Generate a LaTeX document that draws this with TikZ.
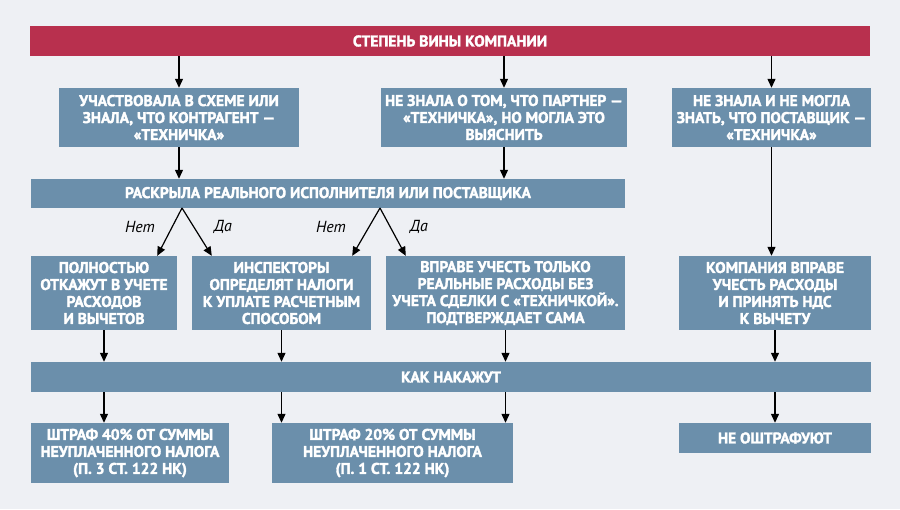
\documentclass[tikz,border=0pt]{standalone}
\usepackage{fontspec}
\setmainfont{PT Sans}
\newfontfamily\boxfont{PT Sans Bold}[FakeBold=2]
\usetikzlibrary{arrows.meta}
\definecolor{bg}{HTML}{EEF0F4}
\definecolor{redbar}{HTML}{B8304E}
\definecolor{boxblue}{HTML}{6B8FAB}
\tikzset{
  box/.style={fill=boxblue, text=white, font=\boxfont\fontsize{15.5}{17}\selectfont, align=center, inner sep=0pt},
  redbox/.style={box, fill=redbar},
  arr/.style={draw=black, line width=1.2pt, -{Triangle[length=9pt,width=8pt]}},
  lbl/.style={font=\itshape\fontsize{16}{17}\selectfont, text=black, inner sep=0pt}
}
\begin{document}
\begin{tikzpicture}[x=1pt,y=-1pt]
\fill[bg] (0,0) rectangle (900,509);
\useasboundingbox (0,0) rectangle (900,509);
% top bar
\node[redbox, minimum width=840pt, minimum height=30pt] (top) at (450,41) {СТЕПЕНЬ ВИНЫ КОМПАНИИ};
% row 2
\node[box, minimum width=240pt, minimum height=59pt] (a) at (179,117.5) {УЧАСТВОВАЛА В СХЕМЕ ИЛИ\\ЗНАЛА, ЧТО КОНТРАГЕНТ —\\«ТЕХНИЧКА»};
\node[box, minimum width=246pt, minimum height=59pt] (b) at (504,117.5) {НЕ ЗНАЛА О ТОМ, ЧТО ПАРТНЕР —\\«ТЕХНИЧКА», НО МОГЛА ЭТО\\ВЫЯСНИТЬ};
\node[box, minimum width=199pt, minimum height=59pt] (c) at (771.5,117.5) {НЕ ЗНАЛА И НЕ МОГЛА\\ЗНАТЬ, ЧТО ПОСТАВЩИК —\\«ТЕХНИЧКА»};
% row 3
\node[box, minimum width=594pt, minimum height=29pt] (rask) at (328,193.5) {РАСКРЫЛА РЕАЛЬНОГО ИСПОЛНИТЕЛЯ ИЛИ ПОСТАВЩИКА};
% row 4
\node[box, minimum width=146pt, minimum height=74pt] (d) at (104,293) {ПОЛНОСТЬЮ\\ОТКАЖУТ В УЧЕТЕ\\РАСХОДОВ\\И ВЫЧЕТОВ};
\node[box, minimum width=179pt, minimum height=74pt] (e) at (281.5,293) {ИНСПЕКТОРЫ\\ОПРЕДЕЛЯТ НАЛОГИ\\К УПЛАТЕ РАСЧЕТНЫМ\\СПОСОБОМ};
\node[box, minimum width=239pt, minimum height=74pt] (f) at (505.5,293) {ВПРАВЕ УЧЕСТЬ ТОЛЬКО\\РЕАЛЬНЫЕ РАСХОДЫ БЕЗ\\УЧЕТА СДЕЛКИ С «ТЕХНИЧКОЙ».\\ПОДТВЕРЖДАЕТ САМА};
\node[box, minimum width=192pt, minimum height=74pt] (g) at (775,293) {КОМПАНИЯ ВПРАВЕ\\УЧЕСТЬ РАСХОДЫ\\И ПРИНЯТЬ НДС\\К ВЫЧЕТУ};
% row 5
\node[box, minimum width=840pt, minimum height=30pt] (kak) at (451,377) {КАК НАКАЖУТ};
% row 6
\node[box, minimum width=198pt, minimum height=60pt] (h) at (130,453) {ШТРАФ 40\% ОТ СУММЫ\\НЕУПЛАЧЕННОГО НАЛОГА\\(П. 3 СТ. 122 НК)};
\node[box, minimum width=241pt, minimum height=60pt] (i) at (392.5,453) {ШТРАФ 20\% ОТ СУММЫ\\НЕУПЛАЧЕННОГО НАЛОГА\\(П. 1 СТ. 122 НК)};
\node[box, minimum width=192pt, minimum height=30pt] (j) at (775,438) {НЕ ОШТРАФУЮТ};
% arrows top -> row 2
\draw[arr] (top.south -| a.north) -- (a.north);
\draw[arr] (top.south -| b.north) -- (b.north);
\draw[arr] (top.south -| c.north) -- (c.north);
% row 2 -> rask
\draw[arr] (a.south) -- (a.south |- rask.north);
\draw[arr] (b.south) -- (b.south |- rask.north);
% c -> g
\draw[arr] (c.south) -- (c.south |- g.north);
% splits
\coordinate (s1) at (182,208);
\coordinate (s2) at (380,208);
\draw[arr] (s1) -- ([xshift=-20pt]d.north east);
\draw[arr] (s1) -- ([xshift=20pt]e.north west);
\draw[arr] (s2) -- ([xshift=-19pt]e.north east);
\draw[arr] (s2) -- ([xshift=20pt]f.north west);
\node[lbl] (n1) at (140,227) {Нет};
\node[lbl] (y1) at (223,227) {Да};
\node[lbl] (n2) at (331,227) {Нет};
\node[lbl] (y2) at (419,227) {Да};
% row 4 -> kak
\draw[arr] (d.south) -- (d.south |- kak.north);
\draw[arr] (e.south) -- (e.south |- kak.north);
\draw[arr] (f.south) -- (f.south |- kak.north);
\draw[arr] (g.south) -- (g.south |- kak.north);
% kak -> row 6
\draw[arr] (kak.south -| d.south) -- (d.south |- h.north);
\draw[arr] (kak.south -| e.south) -- (e.south |- i.north);
\draw[arr] (kak.south -| f.south) -- (f.south |- i.north);
\draw[arr] (kak.south -| g.south) -- (g.south |- j.north);
\end{tikzpicture}
\end{document}
